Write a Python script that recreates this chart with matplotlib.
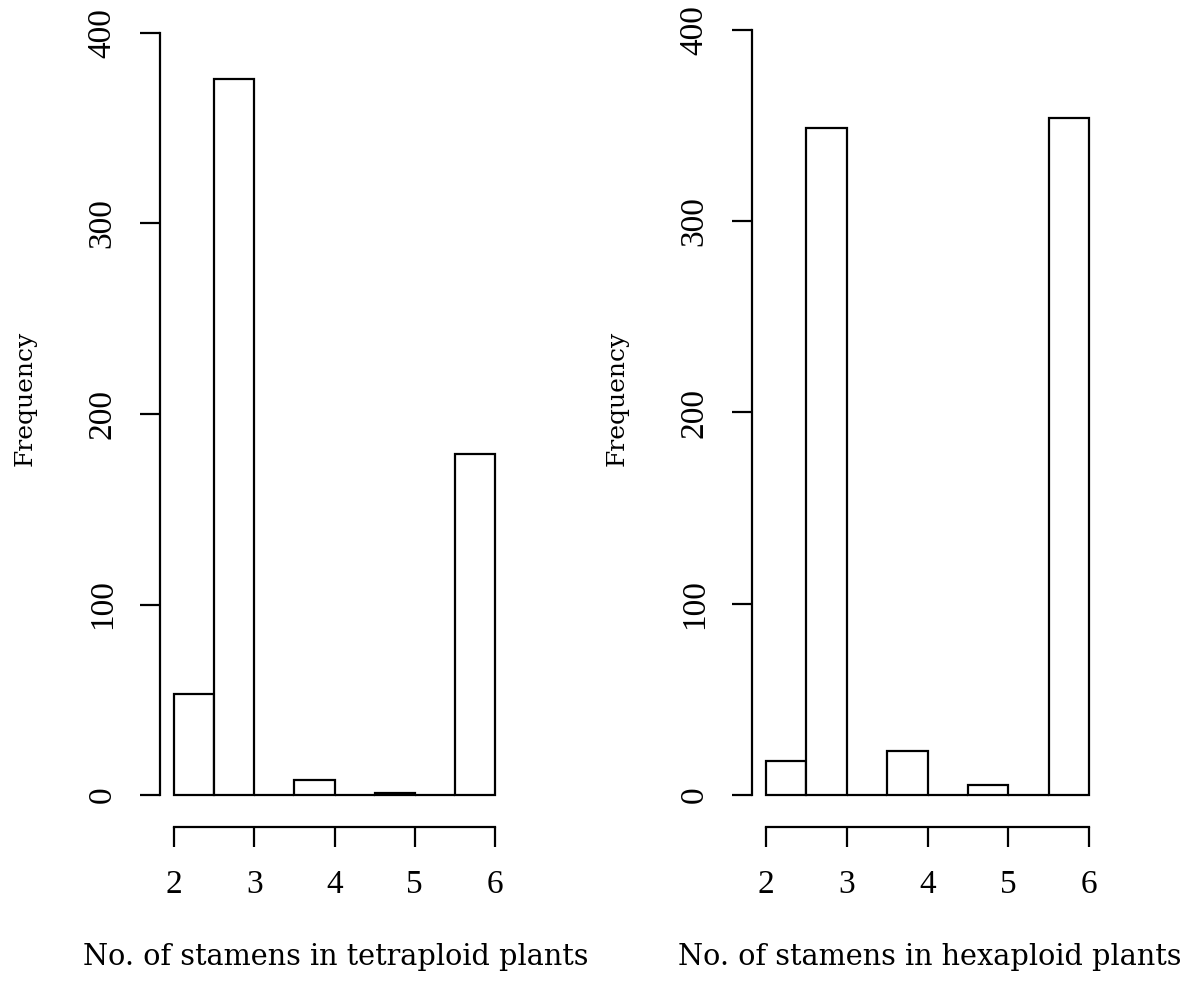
import matplotlib
matplotlib.use("Agg")
import matplotlib.pyplot as plt

# histogram bins (R default breaks) and counts
bin_edges = [2.0, 2.5, 3.0, 3.5, 4.0, 4.5, 5.0, 5.5, 6.0]
tetraploid_counts = [53, 376, 0, 8, 0, 1, 0, 179]
hexaploid_counts = [18, 349, 0, 23, 0, 5, 0, 354]

x_ticks = [2, 3, 4, 5, 6]
y_ticks = [0, 100, 200, 300, 400]
x_labels = ["No. of stamens in tetraploid plants",
            "No. of stamens in hexaploid plants"]

label_font = ["DejaVu Serif"]
tick_font = ["Liberation Serif", "DejaVu Serif"]
plt.rcParams["font.family"] = label_font

W, H = 1200, 988
fig = plt.figure(figsize=(W / 100, H / 100), dpi=100)


def px_axes(x0, x1, y_top, y_bot):
    return fig.add_axes([x0 / W, 1 - y_bot / H, (x1 - x0) / W, (y_bot - y_top) / H])


panels = [
    (px_axes(174, 495, 33, 795), tetraploid_counts, x_labels[0], 25, 336),
    (px_axes(766, 1089, 30, 795), hexaploid_counts, x_labels[1], 617, 930),
]

lw = 1.6
for ax, counts, xlab, ylab_x, xlab_x in panels:
    lefts = bin_edges[:-1]
    widths = [b - a for a, b in zip(bin_edges[:-1], bin_edges[1:])]
    ax.bar(lefts, counts, width=widths, align="edge", facecolor="white",
           edgecolor="black", linewidth=lw, clip_on=False)
    ax.set_xlim(2, 6)
    ax.set_ylim(0, 400)
    for s in ("top", "right"):
        ax.spines[s].set_visible(False)
    ax.spines["left"].set_position(("outward", 14 * 0.72))
    ax.spines["bottom"].set_position(("outward", 32 * 0.72))
    ax.spines["left"].set_bounds(0, 400)
    ax.spines["bottom"].set_bounds(2, 6)
    for s in ("left", "bottom"):
        ax.spines[s].set_linewidth(lw)
    ax.set_xticks(x_ticks)
    ax.set_yticks(y_ticks)
    ax.tick_params(axis="both", length=20 * 0.72, width=lw, labelsize=24)
    ax.tick_params(axis="x", pad=16)
    ax.tick_params(axis="y", pad=16)
    for t in ax.get_xticklabels() + ax.get_yticklabels():
        t.set_family(tick_font)
    for t in ax.get_yticklabels():
        t.set_rotation(90)
        t.set_va("center")
    fig.text(xlab_x / W, 1 - 957 / H, xlab, fontsize=20.7, ha="center", va="center")
    fig.text(ylab_x / W, 1 - 398 / H, "Frequency", fontsize=18, rotation=90,
             ha="center", va="center")

fig.savefig("out.png", dpi=100)
